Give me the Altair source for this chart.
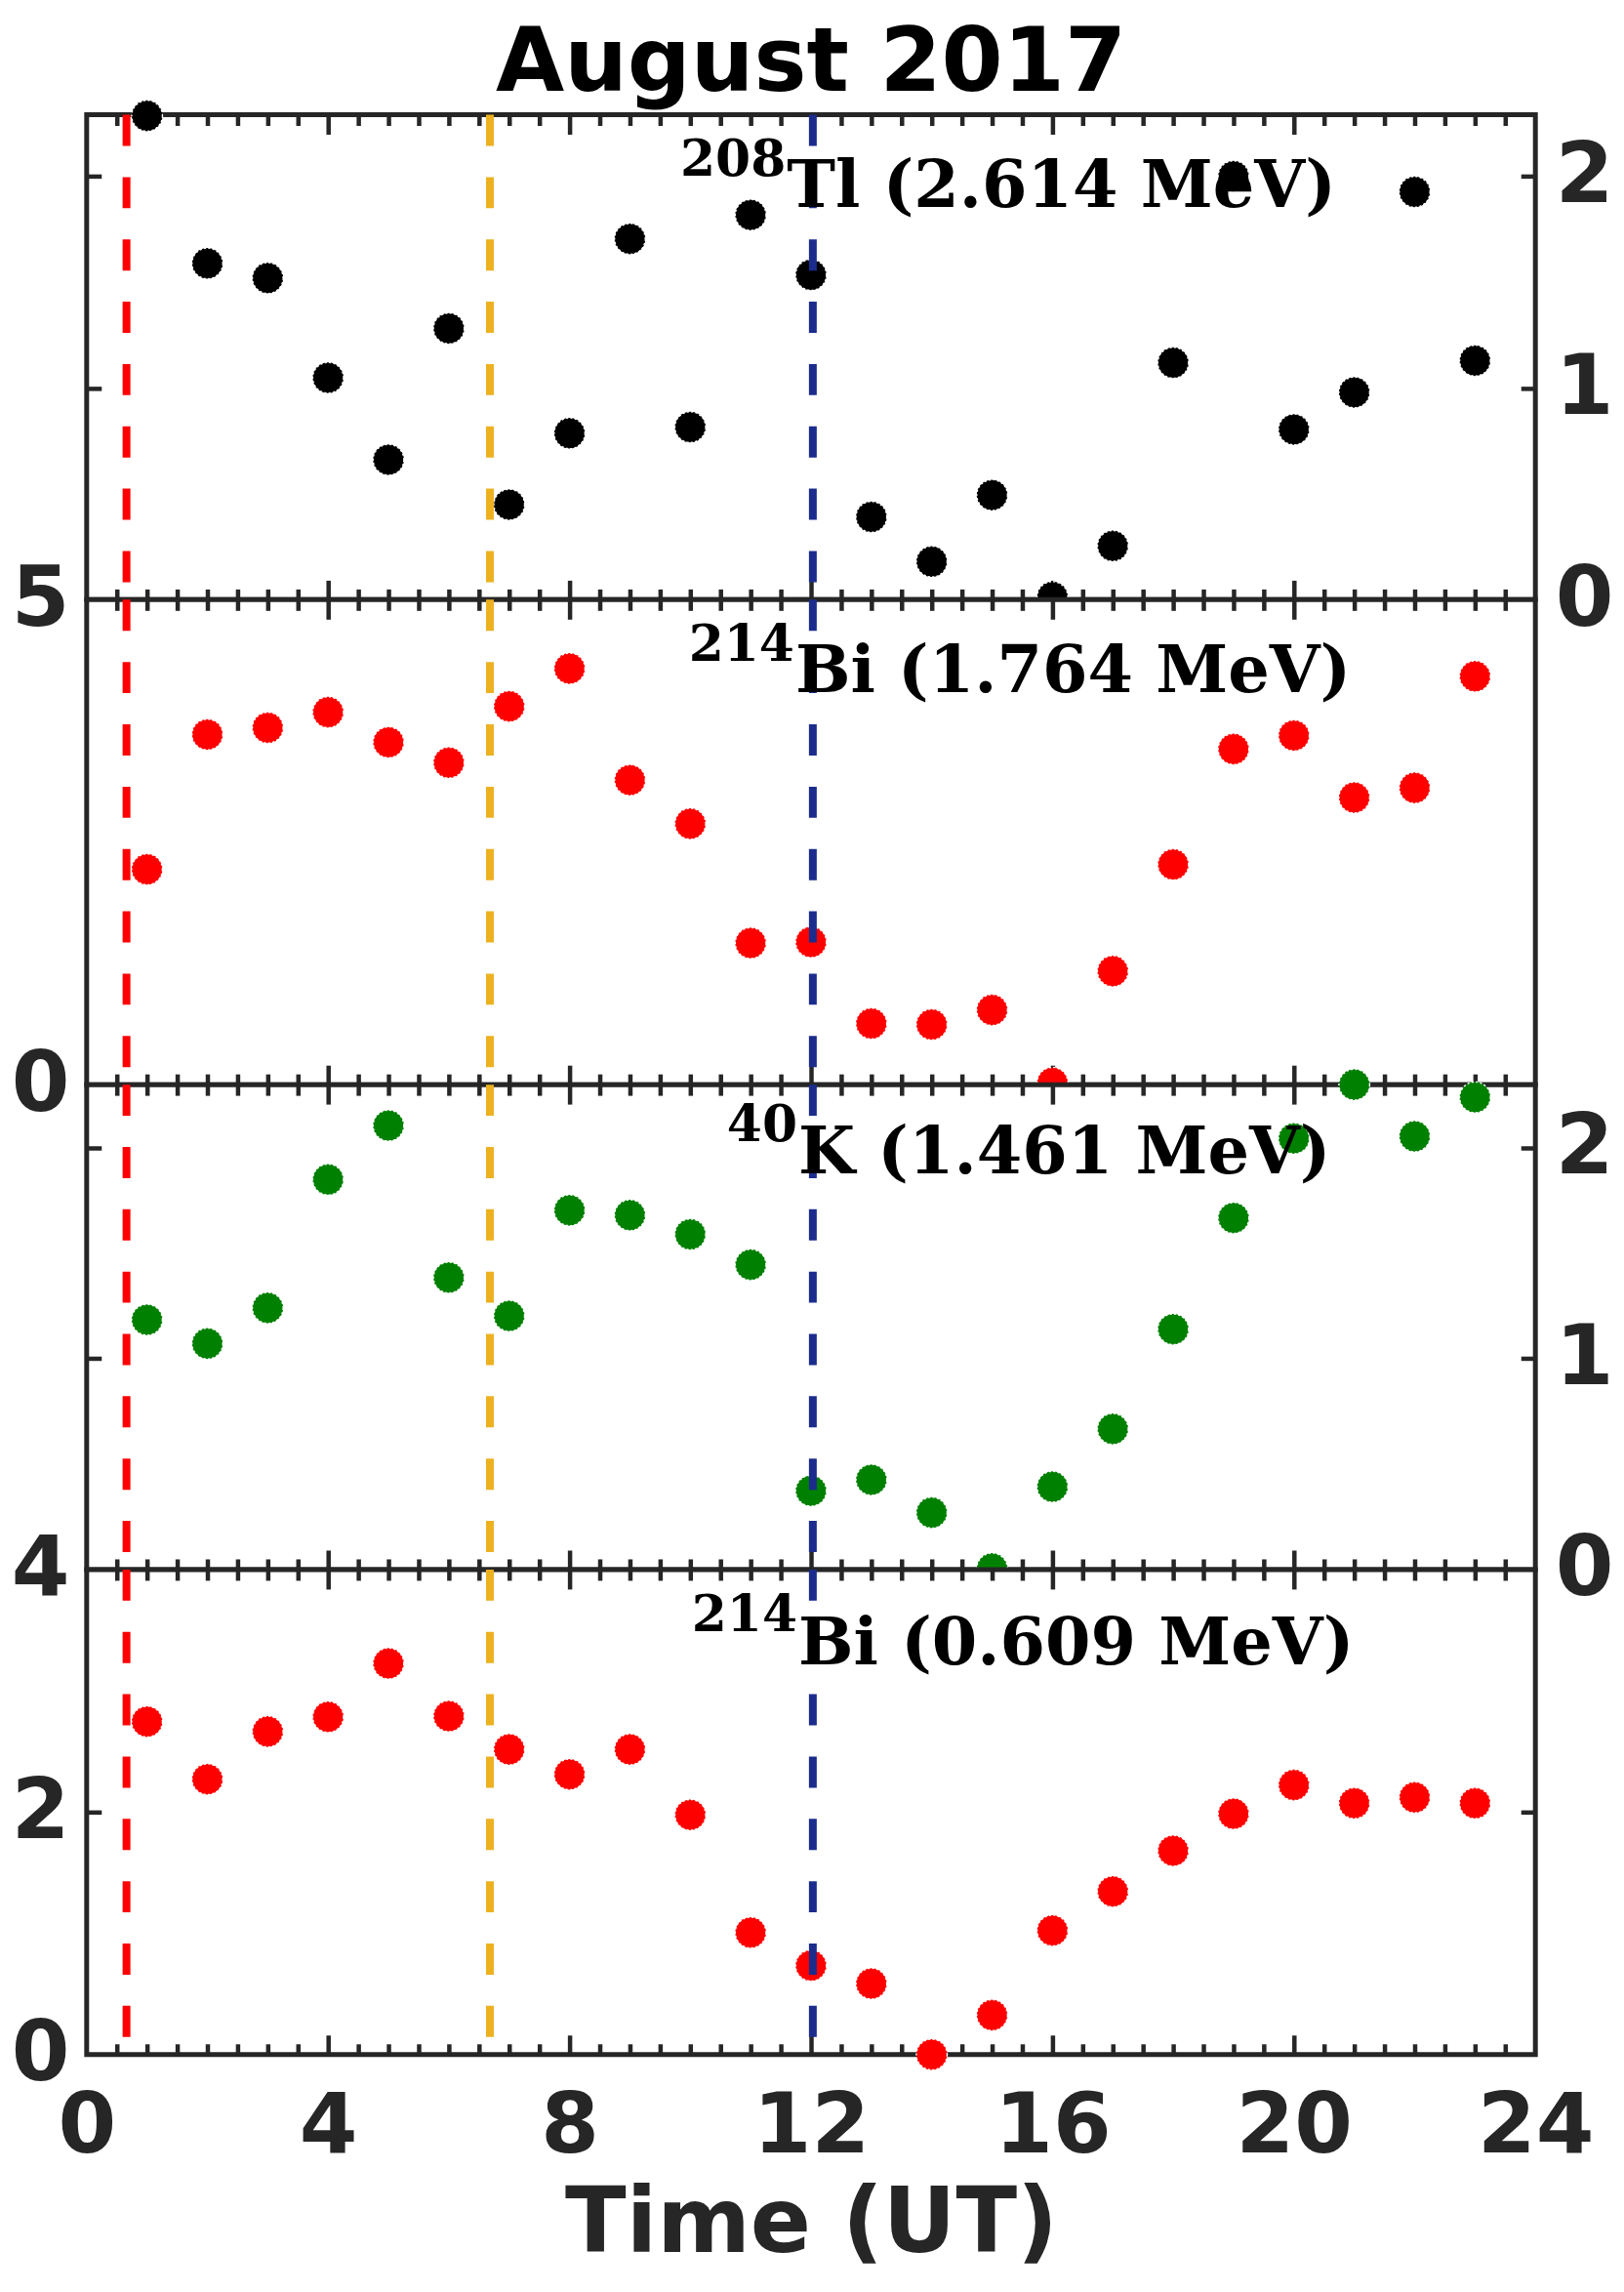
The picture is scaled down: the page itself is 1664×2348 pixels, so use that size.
import altair as alt
import pandas as pd

# ---------------- data ----------------
hours = list(range(1, 24))

tl_2614 = [2.285, 1.588, 1.519, 1.048, 0.661, 1.281, 0.449, 0.786, 1.704, 0.815,
           1.817, 1.534, 0.391, 0.180, 0.494, 0.013, 0.254, 1.119, 2.000, 0.804,
           0.979, 1.926, 1.129]
bi_1764 = [2.22, 3.61, 3.68, 3.84, 3.53, 3.32, 3.90, 4.29, 3.14, 2.69,
           1.46, 1.47, 0.63, 0.62, 0.77, 0.02, 1.17, 2.27, 3.46, 3.60,
           2.96, 3.06, 4.21]
k_1461 = [1.185, 1.072, 1.241, 1.850, 2.106, 1.385, 1.203, 1.704, 1.681, 1.590,
          1.446, 0.374, 0.426, 0.270, 0.005, 0.393, 0.667, 1.140, 1.668, 2.045,
          2.300, 2.055, 2.240]
bi_0609 = [2.746, 2.271, 2.664, 2.785, 3.226, 2.791, 2.517, 2.311, 2.517, 1.977,
           1.006, 0.734, 0.585, 0.000, 0.325, 1.023, 1.345, 1.681, 1.986, 2.223,
           2.073, 2.121, 2.073]

event_hours = [0.66, 6.68, 12.03]
event_colors = ["#FF0000", "#EDB120", "#1B2C8C"]

label_main = ["Tl (2.614 MeV)", "Bi (1.764 MeV)", "K (1.461 MeV)", "Bi (0.609 MeV)"]
label_sup = ["208", "214", "40", "214"]
label_x = [11.60, 11.74, 11.79, 11.79]
label_y_main = [1.855, 4.045, 1.88, 3.22]
label_y_sup = [2.00, 4.37, 2.03, 3.49]

panel_values = [tl_2614, bi_1764, k_1461, bi_0609]
panel_colors = ["#000000", "#FF0000", "#008000", "#FF0000"]
panel_top = [2.29, 5.0, 2.30, 4.0]

title_text = "August 2017"
title_x = 12.0
title_y = 2.405          # in the top panel's data units (just above its frame)

x_major = [4, 8, 12, 16, 20]
x_minor = [h / 2 for h in range(1, 48) if h % 8 != 0]
x_labels = [0, 4, 8, 12, 16, 20, 24]

# ---------------- styling ----------------
W, H = 1488, 498
AX = "#262626"
SANS = "DejaVu Sans"
SERIF = "DejaVu Serif"
LBL = 86


def tick_axis(orient, values, size, offset):
    return alt.Axis(orient=orient, values=values, tickSize=size, offset=offset,
                    labels=False, domain=False, grid=False, title=None,
                    ticks=True, tickColor=AX, tickWidth=4.5)


def label_axis(orient, values, pad, title=None):
    kw = dict(orient=orient, values=values, ticks=False, tickSize=0,
              labelPadding=pad, labelFontSize=LBL, labelFont=SANS,
              labelFontWeight="bold", labelColor=AX, domain=False, grid=False,
              labelFlush=False, labelOverlap=False)
    if title is not None:
        kw.update(title=title, titleFontSize=92, titleFont=SANS,
                  titleFontWeight="bold", titleColor=AX, titlePadding=12)
    else:
        kw.update(title=None)
    return alt.Axis(**kw)


def make_panel(i):
    top = panel_top[i]
    xs = alt.Scale(domain=[0, 24], nice=False, zero=False)
    ys = alt.Scale(domain=[0, top], nice=False, zero=False)

    # x axes: inward ticks on top and bottom edges
    x_axes = [
        tick_axis("bottom", x_major, 20, -H),
        tick_axis("bottom", x_minor, 11, -H),
        tick_axis("top", x_major, 20, -H),
        tick_axis("top", x_minor, 11, -H),
    ]
    if i == 3:
        x_axes.append(label_axis("bottom", x_labels, 32, "Time (UT)"))

    # y axes
    if i in (0, 2):
        y_axes = [
            tick_axis("right", [1, 2], 15, -W),   # left edge, inward
            tick_axis("left", [1, 2], 15, -W),    # right edge, inward
            label_axis("right", [0, 1, 2], 20),
        ]
    elif i == 1:
        y_axes = [label_axis("left", [0, 5], 18)]
    else:
        y_axes = [
            label_axis("left", [0, 2, 4], 18),
            tick_axis("right", [2], 15, -W),
            tick_axis("left", [2], 15, -W),
        ]

    pts = pd.DataFrame({"hour": hours, "value": panel_values[i]})
    ev = pd.DataFrame({"hour": event_hours, "color": event_colors})
    lab = pd.DataFrame({"hour": [label_x[i]], "ym": [label_y_main[i]],
                        "ys": [label_y_sup[i]], "tm": [label_main[i]],
                        "ts": [label_sup[i]]})

    n = max(len(x_axes), len(y_axes), 4)

    def xa(k):
        return x_axes[k] if k < len(x_axes) else None

    def ya(k):
        return y_axes[k] if k < len(y_axes) else None

    layers = []
    layers.append(
        alt.Chart(pts).mark_point(shape="circle", filled=True, size=1000,
                                  fill=panel_colors[i], opacity=1,
                                  stroke="white", strokeWidth=1.4,
                                  strokeDash=[2.2, 2.2]).encode(
            x=alt.X("hour:Q", scale=xs, axis=xa(0)),
            y=alt.Y("value:Q", scale=ys, axis=ya(0)),
        )
    )
    layers.append(
        alt.Chart(ev).mark_rule(strokeDash=[32, 32], strokeWidth=8).encode(
            x=alt.X("hour:Q", scale=xs, axis=xa(1)),
            y=alt.Y(datum=top, scale=ys, axis=ya(1)),
            y2=alt.Y2(datum=0),
            color=alt.Color("color:N", scale=None),
        )
    )
    layers.append(
        alt.Chart(lab).mark_text(font=SERIF, fontWeight="bold", fontSize=67,
                                 align="left", baseline="alphabetic",
                                 color="black").encode(
            x=alt.X("hour:Q", scale=xs, axis=xa(2)),
            y=alt.Y("ym:Q", scale=ys, axis=ya(2)),
            text="tm:N",
        )
    )
    layers.append(
        alt.Chart(lab).mark_text(font=SERIF, fontWeight="bold", fontSize=52,
                                 align="right", baseline="alphabetic", dx=-1,
                                 color="black").encode(
            x=alt.X("hour:Q", scale=xs, axis=xa(3)),
            y=alt.Y("ys:Q", scale=ys, axis=ya(3)),
            text="ts:N",
        )
    )
    for k in range(4, n):
        layers.append(
            alt.Chart(pts).mark_point(opacity=0).encode(
                x=alt.X("hour:Q", scale=xs, axis=xa(k)),
                y=alt.Y("value:Q", scale=ys, axis=ya(k)),
            )
        )
    if i == 0:
        tdf = pd.DataFrame({"hour": [title_x], "y": [title_y], "t": [title_text]})
        layers.append(
            alt.Chart(tdf).mark_text(font=SANS, fontWeight="bold", fontSize=91,
                                     align="center", baseline="alphabetic",
                                     color="black").encode(
                x=alt.X("hour:Q", scale=xs, axis=None),
                y=alt.Y("y:Q", scale=ys, axis=None),
                text="t:N",
            )
        )

    return alt.layer(*layers).resolve_axis(
        x="independent", y="independent"
    ).properties(width=W, height=H)


chart = alt.vconcat(
    *[make_panel(i) for i in range(4)], spacing=0, bounds="flush"
).properties(
    padding={"top": 6, "left": 0, "right": 0, "bottom": 0},
    background="white",
).configure_view(
    stroke=AX, strokeWidth=5, fill="white"
)

chart.save("out.html", embed_options={"renderer": "svg", "actions": False})
